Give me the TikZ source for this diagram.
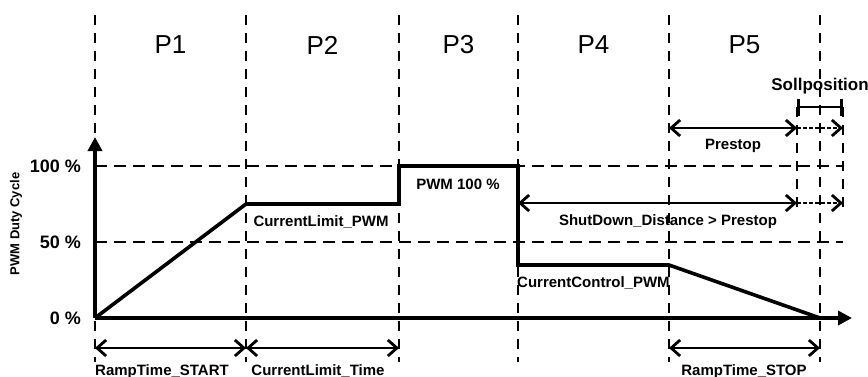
\documentclass[tikz,border=0pt]{standalone}
\usepackage{fontspec}
\setmainfont{Liberation Sans}
\usetikzlibrary{arrows.meta}
\begin{document}
\begin{tikzpicture}[x=1pt,y=-1pt,
  guide/.style={line width=1.3pt, dash pattern=on 10pt off 8pt},
  level/.style={line width=1.3pt, dash pattern=on 12pt off 7pt},
  curve/.style={line width=3.6pt, line join=miter, line cap=butt},
  axis/.style={line width=3.6pt, -{Triangle[length=14pt,width=14pt]}},
  span/.style={line width=2.8pt, {Straight Barb[length=9pt,width=16pt]}-{Straight Barb[length=9pt,width=16pt]}},
  spanend/.style={line width=2.8pt, dash pattern=on 3.5pt off 2.5pt, -{Straight Barb[length=9pt,width=16pt]}},
  bracket/.style={line width=2.8pt, {Bar[width=17pt]}-{Bar[width=17pt]}},
  phase/.style={font=\fontsize{26}{30}\selectfont},
  lbl/.style={font=\bfseries\fontsize{15}{18}\selectfont, inner sep=0pt},
  pct/.style={font=\bfseries\fontsize{18}{21}\selectfont, inner sep=0pt, anchor=east}
]
\useasboundingbox (0,0) rectangle (868,376);

% phase boundaries
\foreach \x in {95,246,399,518,669,820}
  \draw[guide] (\x,15) -- (\x,362);
\draw[guide] (797,107) -- (797,207);
\draw[guide] (843,107) -- (843,210);

% duty-cycle levels
\draw[level] (95,166) -- (843,166);
\draw[level] (95,242) -- (843,242);

% phase names
\node[phase] (p1) at (170.5,45) {P1};
\node[phase] (p2) at (322.5,45) {P2};
\node[phase] (p3) at (458.5,45) {P3};
\node[phase] (p4) at (593.5,45) {P4};
\node[phase] (p5) at (744.5,45) {P5};

% axes
\coordinate (o) at (95,318);
\coordinate (ytop) at (95,137);
\coordinate (xend) at (852,318);
\draw[axis] (o) -- (ytop);
\draw[axis] (o) -- (xend);

\node[pct] (l100) at (81,166) {100 \%};
\node[pct] (l50) at (81,242) {50 \%};
\node[pct] (l0) at (81,318) {0 \%};
\node[font=\bfseries\fontsize{13}{15}\selectfont, rotate=90, inner sep=0pt] (ytitle) at (16,224) {PWM Duty Cycle};

% PWM profile
\coordinate (a) at (246,204);
\coordinate (b) at (399,204);
\coordinate (c) at (399,166);
\coordinate (d) at (518,166);
\coordinate (e) at (518,265);
\coordinate (f) at (669,265);
\coordinate (g) at (820,318);
\draw[curve] (o) -- (a) -- (b) -- (c) -- (d) -- (e) -- (f) -- (g);

\node[lbl] (clpwm) at (321,222) {CurrentLimit\_PWM};
\node[lbl] (pwm100) at (458,184) {PWM 100 \%};
\node[lbl, anchor=west] (ccpwm) at (517,283) {CurrentControl\_PWM};

% prestop and target position
\coordinate (ps1) at (669,128);
\coordinate (ps2) at (797,128);
\coordinate (ps3) at (843,128);
\draw[span] (ps1) -- (ps2);
\draw[spanend] (ps2) -- (ps3);
\node[lbl] (prestop) at (733,146) {Prestop};

\coordinate (sp1) at (797,107);
\coordinate (sp2) at (843,107);
\draw[bracket] (sp1) -- (sp2);
\node[lbl, font=\bfseries\fontsize{17}{20}\selectfont] (soll) at (820,86) {Sollposition};

% shutdown distance
\coordinate (sd1) at (518,203);
\coordinate (sd2) at (797,203);
\coordinate (sd3) at (843,203);
\draw[span] (sd1) -- (sd2);
\draw[spanend] (sd2) -- (sd3);
\node[lbl] (shutdown) at (668,222) {ShutDown\_Distance > Prestop};

% timing spans below the axis
\coordinate (t0) at (95,348);
\coordinate (t1) at (246,348);
\coordinate (t2) at (399,348);
\coordinate (t3) at (669,348);
\coordinate (t4) at (820,348);
\draw[span] (t0) -- (t1);
\draw[span] (t1) -- (t2);
\draw[span] (t3) -- (t4);
\node[lbl, anchor=base] (rts) at (162,375.5) {RampTime\_START};
\node[lbl, anchor=base] (clt) at (318,375.5) {CurrentLimit\_Time};
\node[lbl, anchor=base] (rtp) at (744,375.5) {RampTime\_STOP};
\end{tikzpicture}
\end{document}
